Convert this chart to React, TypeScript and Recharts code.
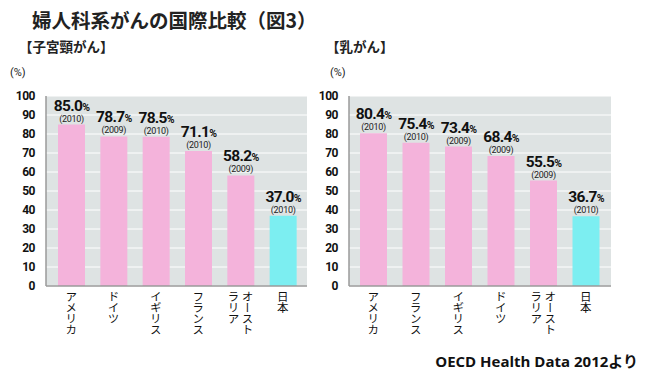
import { BarChart, Bar, XAxis, YAxis, CartesianGrid, LabelList, Cell } from 'recharts'

// 子宮頸がん
const cervixCountries = ['アメリカ', 'ドイツ', 'イギリス', 'フランス', 'オースト\nラリア', '日本']
const cervixRates = [85.0, 78.7, 78.5, 71.1, 58.2, 37.0]
const cervixYears = ['2010', '2009', '2010', '2010', '2009', '2010']

// 乳がん
const breastCountries = ['アメリカ', 'フランス', 'イギリス', 'ドイツ', 'オースト\nラリア', '日本']
const breastRates = [80.4, 75.4, 73.4, 68.4, 55.5, 36.7]
const breastYears = ['2010', '2010', '2009', '2009', '2009', '2010']

const yTicks = [0, 10, 20, 30, 40, 50, 60, 70, 80, 90, 100]

const PINK = '#F4B3DB'
const CYAN = '#7CEEF1'
const PLOT_BG = '#DEE3E3'
const JP = '"Noto Sans CJK JP", "Noto Sans", sans-serif'
const NUM = 'Roboto, "Liberation Sans", sans-serif'

// 縦書きの国名（列は右から左へ）
function VerticalTick(props: any) {
  const { x, y, payload } = props
  const cols = String(payload.value).split('\n')
  const n = cols.length
  return (
    <g>
      {cols.map((col, ci) => {
        const cx = x + ((n - 1) / 2 - ci) * 14
        return (
          <text key={ci} x={cx} y={y + 5} fontSize={11.5} fontFamily={JP} fill="#111" letterSpacing={-0.5}
            style={{ writingMode: 'vertical-rl' }}>{col}</text>
        )
      })}
    </g>
  )
}

function makeLabel(years: string[]) {
  return (props: any) => {
    const { x, y, width, value, index } = props
    const cx = x + width / 2
    return (
      <g>
        <text x={cx} y={y - 14} textAnchor="middle" fontFamily={NUM} fontWeight="bold" fill="#111" letterSpacing={-0.7}>
          <tspan fontSize={15.5}>{Number(value).toFixed(1)}</tspan>
          <tspan fontSize={10.5}>%</tspan>
        </text>
        <text x={cx} y={y - 3} textAnchor="middle" fontFamily={NUM} fontSize={9} fill="#222" letterSpacing={-0.3}>({years[index]})</text>
      </g>
    )
  }
}

function Panel({ countries, rates, years, yWidth, marginRight, pad }: {
  countries: string[]; rates: number[]; years: string[]; yWidth: number; marginRight: number
  pad: { left: number; right: number }
}) {
  const data = countries.map((c, i) => ({ country: c, rate: rates[i] }))
  return (
    <BarChart width={320} height={378} data={data}
      margin={{ top: 96, right: marginRight, left: 6, bottom: 32 }} barSize={27}>
      <CartesianGrid horizontal vertical={false} stroke="#FFFFFF" strokeWidth={1} fill={PLOT_BG} />
      <XAxis dataKey="country" interval={0} tickLine={false} tickSize={0} tickMargin={0} height={60} padding={pad}
        axisLine={{ stroke: '#9A9A9A', strokeWidth: 1.5 }} tick={<VerticalTick />} />
      <YAxis domain={[0, 100]} ticks={yTicks} interval={0} width={yWidth} tickLine={false} tickMargin={5}
        axisLine={{ stroke: '#9A9A9A', strokeWidth: 1.5 }}
        tick={{ fontSize: 12, fontWeight: 'bold', fill: '#111', fontFamily: NUM, letterSpacing: -0.5 }} />
      <Bar dataKey="rate" isAnimationActive={false}>
        {data.map((d, i) => (
          <Cell key={i} fill={d.country === '日本' ? CYAN : PINK} />
        ))}
        <LabelList dataKey="rate" content={makeLabel(years)} />
      </Bar>
    </BarChart>
  )
}

export default function App() {
  return (
    <div style={{ position: 'absolute', left: 0, top: 0, width: 650, height: 378, background: '#fff', overflow: 'hidden' }}>
      <div style={{ position: 'absolute', left: 32, top: 5, fontFamily: JP, fontWeight: 'bold', fontSize: 19.5, color: '#222', whiteSpace: 'nowrap' }}>
        婦人科系がんの国際比較（図3）
      </div>
      <div style={{ position: 'absolute', left: 19, top: 36, fontFamily: JP, fontWeight: 'bold', fontSize: 13.5, color: '#222' }}>
        【子宮頸がん】
      </div>
      <div style={{ position: 'absolute', left: 326, top: 36, fontFamily: JP, fontWeight: 'bold', fontSize: 13.5, color: '#222' }}>
        【乳がん】
      </div>
      <div style={{ position: 'absolute', left: 10, top: 66, fontFamily: NUM, fontSize: 11, color: '#222' }}>(%)</div>
      <div style={{ position: 'absolute', left: 330, top: 66, fontFamily: NUM, fontSize: 11, color: '#222' }}>(%)</div>

      <div style={{ position: 'absolute', left: 0, top: 0 }}>
        <Panel countries={cervixCountries} rates={cervixRates} years={cervixYears} yWidth={40} marginRight={13} pad={{ left: 4, right: 3 }} />
      </div>
      <div style={{ position: 'absolute', left: 300, top: 0 }}>
        <Panel countries={breastCountries} rates={breastRates} years={breastYears} yWidth={43} marginRight={9} pad={{ left: 3, right: 4 }} />
      </div>

      <div style={{ position: 'absolute', right: 12, top: 350, fontFamily: '"Open Sans", "Liberation Sans", sans-serif', fontWeight: 'bold', fontSize: 15, color: '#111', whiteSpace: 'nowrap' }}>
        OECD Health Data 2012<span style={{ fontFamily: JP }}>より</span>
      </div>
    </div>
  )
}
